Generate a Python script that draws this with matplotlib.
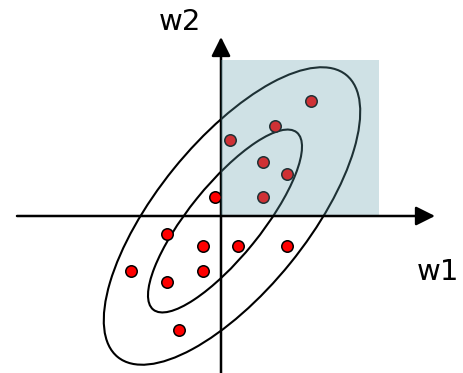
import numpy as np
import matplotlib.pyplot as plt
from matplotlib.patches import Ellipse, Rectangle

# sample points (w1, w2)
w1 = [9.0, 5.4, 0.9, 4.2, 6.6, 4.2, -0.6, -5.4, -1.8, 1.7, 6.6, -9.0, -5.4, -1.8, -4.2]
w2 = [11.5, 9.0, 7.6, 5.4, 4.2, 1.9, 1.9, -1.8, -3.0, -3.0, -3.0, -5.5, -6.6, -5.5, -11.4]

# contour ellipses: center, full width, full height, angle
ell_centers = [(1.1, 0.0), (0.4, -0.5)]
ell_widths = [36.3, 22.8]
ell_heights = [15.0, 7.2]
ell_angles = [51, 51]

# shaded quadrant
box_w, box_h = 15.8, 15.6

fig = plt.figure(figsize=(4.64, 3.73), dpi=100)
ax = fig.add_axes([0, 0, 1, 1])
ax.set_xlim(-22.1, 24.3)
ax.set_ylim(-15.7, 21.6)
ax.axis('off')

for c, w, h, a in zip(ell_centers, ell_widths, ell_heights, ell_angles):
    ax.add_patch(Ellipse(c, w, h, angle=a, fill=False, edgecolor='black', lw=1.5, zorder=2))

ax.scatter(w1, w2, s=68, color='red', edgecolor='black', linewidth=1.1, zorder=3)

# vertical axis with arrow
ax.annotate('', xy=(0, 17.9), xytext=(0, -15.7),
            arrowprops=dict(arrowstyle='-|>', lw=1.8, color='black', mutation_scale=29,
                            shrinkA=0, shrinkB=0), zorder=1)

ax.add_patch(Rectangle((0, 0), box_w, box_h, facecolor='#64A1AE', alpha=0.31,
                       edgecolor='none', zorder=4))

# horizontal axis with arrow
ax.annotate('', xy=(21.4, 0), xytext=(-20.4, 0),
            arrowprops=dict(arrowstyle='-|>', lw=1.8, color='black', mutation_scale=29,
                            shrinkA=0, shrinkB=0), zorder=5)

ax.text(-4.1, 18.6, 'w2', fontsize=21, ha='center', va='baseline')
ax.text(21.7, -6.4, 'w1', fontsize=21, ha='center', va='baseline')

fig.savefig('out.png', dpi=100)
